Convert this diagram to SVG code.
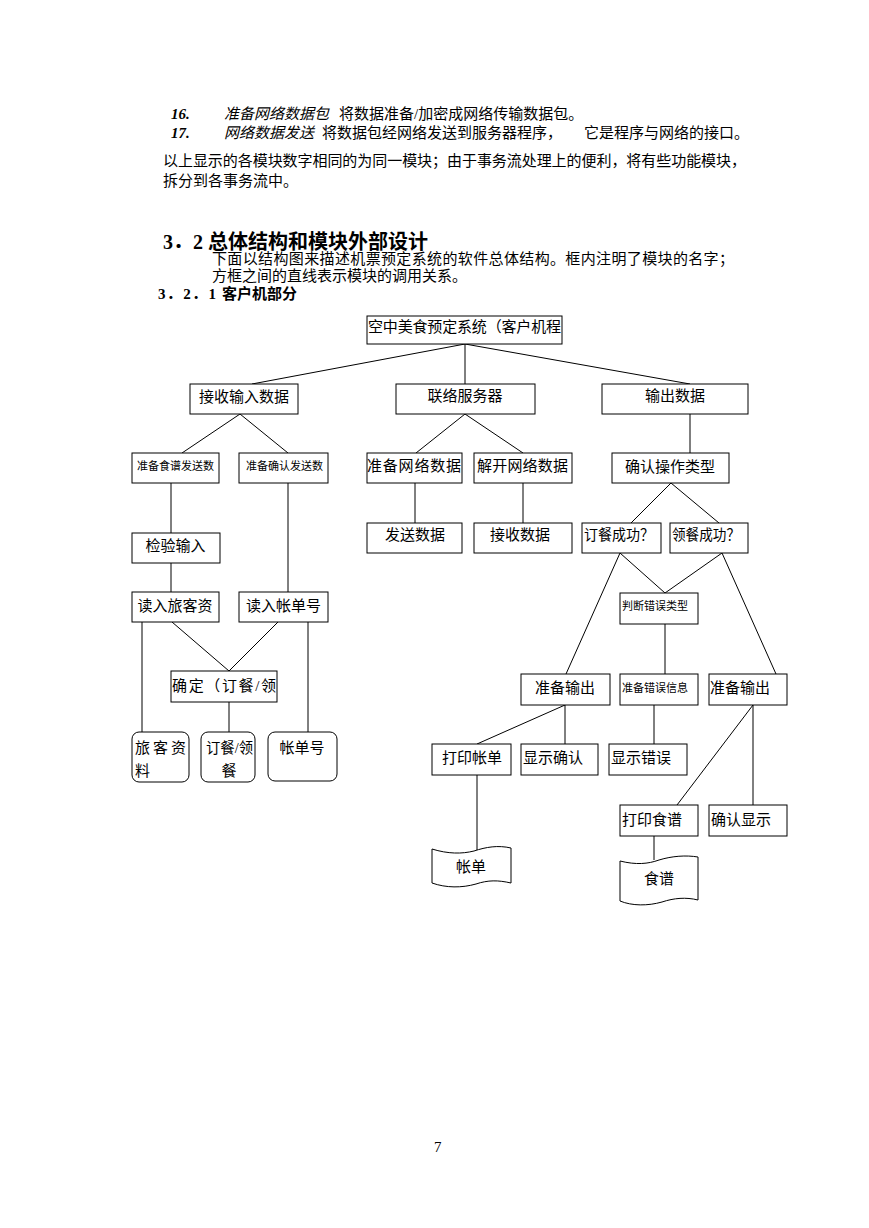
<svg xmlns="http://www.w3.org/2000/svg" width="869" height="1228" viewBox="0 0 869 1228">
<style>
text{font-family:"Liberation Serif","Noto Sans CJK SC",serif;fill:#000}
.p{font-size:15px}
.t{font-size:15px}
.s{font-size:11px}
.c{text-anchor:middle}
.h{font-size:20px;font-weight:bold}
.h2{font-size:15px;font-weight:bold}
.i{font-style:italic}
.b{fill:#fff;stroke:#000;stroke-width:1}
#connectors line{stroke:#000;stroke-width:1}
</style>
<rect width="869" height="1228" fill="#fff"/>
<g id="page-text">
<text class="p" x="171" y="119"><tspan font-weight="bold" font-style="italic">16.</tspan><tspan x="224" class="i">准备网络数据包</tspan><tspan x="339">将数据准备/加密成网络传输数据包。</tspan></text>
<text class="p" x="171" y="138"><tspan font-weight="bold" font-style="italic">17.</tspan><tspan x="224" class="i">网络数据发送</tspan><tspan x="322">将数据包经网络发送到服务器程序，</tspan><tspan x="584">它是程序与网络的接口。</tspan></text>
<text class="p" x="163" y="166" textLength="583" lengthAdjust="spacing">以上显示的各模块数字相同的为同一模块；由于事务流处理上的便利，将有些功能模块，</text>
<text class="p" x="163" y="186">拆分到各事务流中。</text>
<text class="h" x="163" y="249">3．2 总体结构和模块外部设计</text>
<text class="p" x="212" y="264" textLength="522" lengthAdjust="spacing">下面以结构图来描述机票预定系统的软件总体结构。框内注明了模块的名字；</text>
<text class="p" x="212" y="281">方框之间的直线表示模块的调用关系。</text>
<text class="h2" x="158" y="299"><tspan textLength="58" lengthAdjust="spacing">3．2．1</tspan><tspan x="222">客户机部分</tspan></text>
<text class="p" x="434" y="1152">7</text>
</g>
<g id="connectors">
<line x1="465" y1="344" x2="252" y2="384"/>
<line x1="465" y1="344" x2="465" y2="384"/>
<line x1="465" y1="344" x2="690" y2="384"/>
<line x1="240" y1="414" x2="182" y2="453"/>
<line x1="240" y1="414" x2="288" y2="453"/>
<line x1="465" y1="414" x2="416" y2="453"/>
<line x1="465" y1="414" x2="523" y2="453"/>
<line x1="690" y1="414" x2="690" y2="453"/>
<line x1="171" y1="483" x2="171" y2="533"/>
<line x1="288" y1="483" x2="288" y2="592"/>
<line x1="415" y1="483" x2="415" y2="523"/>
<line x1="523" y1="483" x2="523" y2="523"/>
<line x1="671" y1="483" x2="631" y2="523"/>
<line x1="671" y1="483" x2="719" y2="523"/>
<line x1="171" y1="563" x2="171" y2="592"/>
<line x1="172" y1="622" x2="229" y2="671"/>
<line x1="278" y1="622" x2="229" y2="671"/>
<line x1="229" y1="702" x2="229" y2="732"/>
<line x1="142" y1="622" x2="142" y2="732"/>
<line x1="308" y1="622" x2="308" y2="732"/>
<line x1="620" y1="553" x2="566" y2="674"/>
<line x1="620" y1="553" x2="665" y2="593"/>
<line x1="722" y1="553" x2="665" y2="593"/>
<line x1="722" y1="553" x2="776" y2="674"/>
<line x1="665" y1="624" x2="665" y2="674"/>
<line x1="565" y1="705" x2="477" y2="744"/>
<line x1="565" y1="705" x2="565" y2="744"/>
<line x1="654" y1="705" x2="654" y2="744"/>
<line x1="753" y1="705" x2="677" y2="805"/>
<line x1="753" y1="705" x2="753" y2="805"/>
<line x1="477" y1="775" x2="477" y2="850"/>
<line x1="654" y1="836" x2="654" y2="860"/>
</g>
<g id="root"><rect class="b" x="367" y="316" width="195" height="28"/><text class="t" x="368" y="332" textLength="193" lengthAdjust="spacing">空中美食预定系统（客户机程</text></g>
<g id="n1"><rect class="b" x="190" y="384" width="108" height="30"/><text class="t c" x="244" y="402">接收输入数据</text></g>
<g id="n2"><rect class="b" x="396" y="384" width="139" height="30"/><text class="t c" x="465" y="401">联络服务器</text></g>
<g id="n3"><rect class="b" x="602" y="384" width="146" height="30"/><text class="t c" x="675" y="401">输出数据</text></g>
<g id="n4"><rect class="b" x="132" y="453" width="87" height="30"/><text class="s" x="137" y="469.5">准备食谱发送数</text></g>
<g id="n5"><rect class="b" x="239" y="453" width="89" height="30"/><text class="s" x="246" y="469.5">准备确认发送数</text></g>
<g id="n6"><rect class="b" x="367" y="453" width="95" height="30"/><text class="t" x="367" y="471" textLength="94" lengthAdjust="spacing">准备网络数据</text></g>
<g id="n7"><rect class="b" x="474" y="453" width="98" height="30"/><text class="t" x="477" y="471" textLength="91" lengthAdjust="spacing">解开网络数据</text></g>
<g id="n8"><rect class="b" x="612" y="453" width="117" height="30"/><text class="t c" x="670" y="472">确认操作类型</text></g>
<g id="n9"><rect class="b" x="132" y="533" width="88" height="30"/><text class="t c" x="175.5" y="551">检验输入</text></g>
<g id="n10"><rect class="b" x="367" y="523" width="95" height="30"/><text class="t c" x="415" y="540">发送数据</text></g>
<g id="n11"><rect class="b" x="474" y="523" width="98" height="30"/><text class="t c" x="520" y="540">接收数据</text></g>
<g id="n12"><rect class="b" x="582" y="523" width="79" height="30"/><text class="t" x="584" y="540" textLength="70" lengthAdjust="spacingAndGlyphs">订餐成功？</text></g>
<g id="n13"><rect class="b" x="670" y="523" width="78" height="30"/><text class="t" x="672" y="540" textLength="68" lengthAdjust="spacingAndGlyphs">领餐成功？</text></g>
<g id="n14"><rect class="b" x="132" y="592" width="87" height="30"/><text class="t c" x="175" y="611">读入旅客资</text></g>
<g id="n15"><rect class="b" x="239" y="592" width="89" height="30"/><text class="t c" x="283.5" y="611">读入帐单号</text></g>
<g id="n16"><rect class="b" x="171" y="671" width="106" height="31"/><text class="t" x="172" y="690.5" textLength="104" lengthAdjust="spacing">确定（订餐/领</text></g>
<g id="n17"><rect class="b" x="132" y="732" width="57" height="50" rx="7"/><text class="t" x="135" y="753" textLength="51" lengthAdjust="spacing">旅客资</text><text class="t" x="135" y="776">料</text></g>
<g id="n18"><rect class="b" x="201" y="732" width="54" height="50" rx="7"/><text class="t" x="206" y="753" textLength="47" lengthAdjust="spacingAndGlyphs">订餐/领</text><text class="t c" x="229" y="776">餐</text></g>
<g id="n19"><rect class="b" x="268" y="732" width="69" height="49" rx="7"/><text class="t c" x="302" y="753">帐单号</text></g>
<g id="n20"><rect class="b" x="620" y="593" width="78" height="31"/><text class="s" x="622" y="610">判断错误类型</text></g>
<g id="n21"><rect class="b" x="521" y="674" width="89" height="31"/><text class="t c" x="565" y="693">准备输出</text></g>
<g id="n22"><rect class="b" x="620" y="674" width="78" height="31"/><text class="s" x="622" y="691.5">准备错误信息</text></g>
<g id="n23"><rect class="b" x="709" y="674" width="78" height="31"/><text class="t" x="710" y="693">准备输出</text></g>
<g id="n24"><rect class="b" x="432" y="744" width="79" height="31"/><text class="t c" x="472" y="763">打印帐单</text></g>
<g id="n25"><rect class="b" x="521" y="744" width="77" height="31"/><text class="t" x="523" y="763">显示确认</text></g>
<g id="n26"><rect class="b" x="609" y="744" width="78" height="31"/><text class="t" x="611" y="763">显示错误</text></g>
<g id="n27"><rect class="b" x="620" y="805" width="78" height="31"/><text class="t" x="622" y="825">打印食谱</text></g>
<g id="n28"><rect class="b" x="709" y="805" width="78" height="31"/><text class="t" x="711" y="825">确认显示</text></g>
<g id="n29"><path class="b" d="M432,849 C448,854 462,854 474,851 C486,847 498,845 511,848 L511,883 C498,880 488,880 476,884 C462,888 446,888 432,883 Z"/><text class="t c" x="471" y="872">帐单</text></g>
<g id="n30"><path class="b" d="M620,861 C636,865 648,864 659,860 C672,856 686,855 698,857 L698,900 C686,897 674,898 662,902 C648,906 632,906 620,901 Z"/><text class="t c" x="659" y="884">食谱</text></g>
</svg>
